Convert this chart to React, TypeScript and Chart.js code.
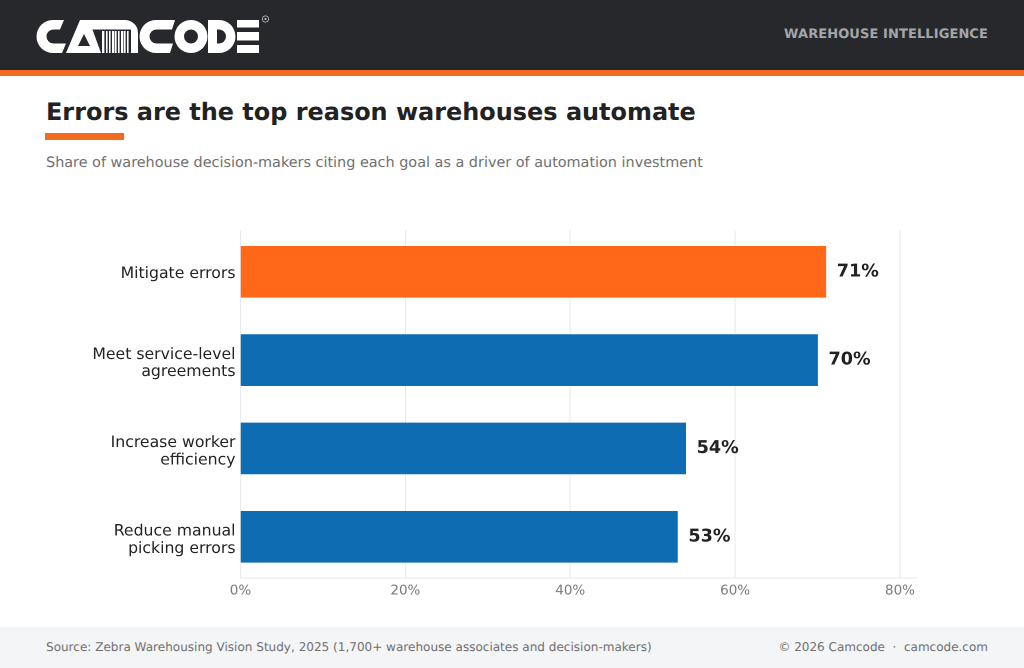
import React, { useEffect, useRef } from "react";
import { Chart, registerables } from "chart.js";

Chart.register(...registerables);

const categories = [
  ["Mitigate errors"],
  ["Meet service-level", "agreements"],
  ["Increase worker", "efficiency"],
  ["Reduce manual", "picking errors"],
];
const values = [71, 70, 54, 53];
const barColors = ["#FF6819", "#0D6CB2", "#0D6CB2", "#0D6CB2"];
const xTicks = [0, 20, 40, 60, 80];
const FONT = "'DejaVu Sans', sans-serif";

const valueLabels = {
  id: "valueLabels",
  beforeDraw(chart: any) {
    chart.ctx.textRendering = "geometricPrecision";
  },
  afterDatasetsDraw(chart: any) {
    const { ctx } = chart;
    const meta = chart.getDatasetMeta(0);
    ctx.save();
    ctx.font = `bold 17.6px ${FONT}`;
    ctx.fillStyle = "#222222";
    ctx.textAlign = "left";
    ctx.textBaseline = "middle";
    meta.data.forEach((bar: any, i: number) => {
      ctx.fillText(`${values[i]}%`, bar.x + 11, bar.y);
    });
    ctx.restore();
  },
};

function Logo() {
  const bars = [102, 106, 109, 112, 115, 118, 121, 124, 127];
  return (
    <svg width="300" height="70" viewBox="0 0 300 70" style={{ position: "absolute", left: 0, top: 0 }}>
      <g fill="#fff" fillRule="evenodd">
        <path d="M64 20 H53 A16.500 16.500 0 0 0 53 53 H62 L66 43.500 H53.500 A7 7 0 0 1 53.500 29.500 H60 Z" />
        <path d="M66 53 L80 20 H89 L101 53 Z M84 34 L78 46 H90 Z" />
        {bars.map((x, i) => (
          <rect key={i} x={x} y={31} width={i % 3 === 0 ? 2.4 : 1.6} height={22} />
        ))}
        <path d="M86 20 H125 A13 13 0 0 1 138 33 V53 H131 V29.500 H90 Z" />
        <path d="M175 20 H156 A16.500 16.500 0 0 0 156 53 H170 L173 43.500 H156.500 A7 7 0 0 1 156.500 29.500 H172 Z" />
        <path d="M191 20 A16.500 16.500 0 0 1 191 53 A16.500 16.500 0 0 1 191 20 Z M191 29.500 A7 7 0 0 0 191 43.500 A7 7 0 0 0 191 29.500 Z" />
        <path d="M208 20 H219 A16.500 16.500 0 0 1 219 53 H208 Z M217 29.500 V43.500 H219 A7 7 0 0 0 219 29.500 Z" />
        <path d="M237 20 H259 V27.500 H237 Z M237 32 H259 V40.500 H237 Z M237 45 H259 V53 H237 Z" />
      </g>
      <circle cx="265.500" cy="19" r="3.200" fill="none" stroke="#c9c9c9" strokeWidth="0.800" />
      <circle cx="265.500" cy="19" r="1.100" fill="#c9c9c9" />
    </svg>
  );
}

export default function App() {
  const ref = useRef<HTMLCanvasElement>(null);
  useEffect(() => {
    document.body.style.margin = "0";
    const chart = new Chart(ref.current!, {
      type: "bar",
      data: {
        datasets: [
          {
            data: values.map((v, i) => ({ x: v, y: i })),
            backgroundColor: barColors,
            barThickness: 51,
          },
        ],
      },
      options: {
        indexAxis: "y",
        animation: false,
        responsive: false,
        devicePixelRatio: 2,
        layout: { padding: 0 },
        plugins: { legend: { display: false }, tooltip: { enabled: false } },
        scales: {
          x: {
            type: "linear",
            min: 0,
            max: 82,
            afterBuildTicks: (s: any) => {
              s.ticks = xTicks.map((value) => ({ value }));
            },
            ticks: { color: "#7A7A7A", font: { family: FONT, size: 13.5 }, padding: 5, maxRotation: 0, callback: (v: any) => `${v}%` },
            grid: { color: "#E9EBEE", lineWidth: 1.2, drawTicks: false },
            border: { color: "#E6E8EB", width: 1 },
          },
          y: {
            type: "linear",
            reverse: true,
            offset: false,
            min: -0.47,
            max: 3.464,
            afterBuildTicks: (s: any) => {
              s.ticks = categories.map((lines, i) => ({ value: i + (lines.length > 1 ? 0.037 : 0.025) }));
            },
            afterFit: (s: any) => {
              s.width = 240.5;
            },
            ticks: {
              color: "#222222",
              font: { family: FONT, size: 15.7, lineHeight: 1.1 },
              padding: 5,
              callback: (v: any) => categories[Math.round(v)],
            },
            grid: { display: false, drawTicks: false },
            border: { display: false },
          },
        },
      },
      plugins: [valueLabels],
    } as any);
    return () => chart.destroy();
  }, []);
  const smooth: any = { textRendering: "geometricPrecision" };
  return (
    <div style={{ position: "relative", width: 1024, height: 668, background: "#fff", overflow: "hidden", fontFamily: FONT, ...smooth }}>
      <div style={{ position: "absolute", left: 0, top: 0, width: 1024, height: 70, background: "#26282B" }} />
      <div style={{ position: "absolute", left: 0, top: 70, width: 1024, height: 5.5, background: "#F26A21" }} />
      <Logo />
      <div style={{ position: "absolute", right: 36, top: 27, fontSize: 13, fontWeight: 700, color: "#A3A6AA", letterSpacing: 0.1, whiteSpace: "nowrap" }}>WAREHOUSE INTELLIGENCE</div>
      <div style={{ position: "absolute", left: 46, top: 97.500, fontSize: 23.950, fontWeight: 700, color: "#222222", whiteSpace: "nowrap" }}>Errors are the top reason warehouses automate</div>
      <div style={{ position: "absolute", left: 45, top: 133, width: 79, height: 6.500, background: "#F26A21" }} />
      <div style={{ position: "absolute", left: 46, top: 155, fontSize: 14.400, color: "#707070", whiteSpace: "nowrap" }}>Share of warehouse decision-makers citing each goal as a driver of automation investment</div>
      <div style={{ position: "absolute", left: 0, top: 208, width: 920, height: 396 }}>
        <canvas ref={ref} width={920} height={396} style={{ display: "block" }} />
      </div>
      <div style={{ position: "absolute", left: 0, top: 627, width: 1024, height: 41, background: "#F4F5F7" }} />
      <div style={{ position: "absolute", left: 46, top: 639.500, fontSize: 12.040, color: "#707070", whiteSpace: "nowrap" }}>Source: Zebra Warehousing Vision Study, 2025 (1,700+ warehouse associates and decision-makers)</div>
      <div style={{ position: "absolute", right: 36, top: 639.500, fontSize: 12, color: "#707070", whiteSpace: "pre" }}>© 2026 Camcode  ·  camcode.com</div>
    </div>
  );
}
